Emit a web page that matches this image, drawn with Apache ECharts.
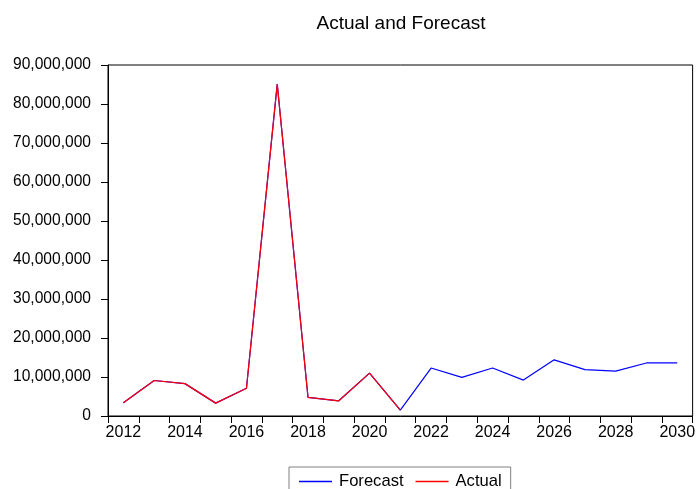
<!DOCTYPE html>
<html>
<head>
<meta charset="utf-8">
<script src="https://cdn.jsdelivr.net/npm/echarts@6/dist/echarts.min.js"></script>
<style>html,body{margin:0;padding:0;background:#fff}#c{width:698px;height:489px}</style>
</head>
<body>
<div id="c"></div>
<script>
const years = ['2012','2013','2014','2015','2016','2017','2018','2019','2020','2021','2022','2023','2024','2025','2026','2027','2028','2029','2030'];
const actual = [3400000, 9100000, 8300000, 3300000, 7100000, 85100000, 4800000, 3900000, 11000000, 1500000, null, null, null, null, null, null, null, null, null];
const forecast = [3400000, 9100000, 8300000, 3300000, 7100000, 85100000, 4800000, 3900000, 11000000, 1500000, 12300000, 9900000, 12300000, 9200000, 14400000, 11900000, 11500000, 13600000, 13600000];
const yTicks = [0, 10000000, 20000000, 30000000, 40000000, 50000000, 60000000, 70000000, 80000000, 90000000];

const font = 'Liberation Sans, Arial, sans-serif';
const chart = echarts.init(document.getElementById('c'), null, {renderer: 'canvas'});
chart.setOption({
  animation: false,
  backgroundColor: '#fff',
  title: {
    text: 'Actual and Forecast',
    left: 401, textAlign: 'center', top: 14, padding: 0,
    textStyle: {fontFamily: font, fontSize: 19, fontWeight: 'normal', color: '#000'}
  },
  grid: {left: 108, top: 65, width: 586, height: 351, show: true, borderColor: '#000', borderWidth: 1, backgroundColor: 'transparent'},
  legend: {
    data: ['Forecast', 'Actual'],
    left: 289, top: 467,
    orient: 'horizontal',
    itemWidth: 33, itemHeight: 1.5, icon: 'rect', itemGap: 12,
    padding: [6, 9, 12, 10],
    borderColor: '#808080', borderWidth: 1,
    textStyle: {fontFamily: font, fontSize: 16.6, color: '#000', padding: [0, 0, 0, 2]}
  },
  xAxis: {
    type: 'category', data: years, boundaryGap: true,
    axisLine: {show: true, lineStyle: {color: '#000', width: 1}},
    axisTick: {show: true, interval: 0, length: 7, lineStyle: {color: '#000'}},
    axisLabel: {interval: 1, margin: 9, fontFamily: font, fontSize: 16, color: '#000'},
    splitLine: {show: false}
  },
  yAxis: {
    type: 'value', min: 0, max: 90000000, interval: 10000000,
    axisLine: {show: true, lineStyle: {color: '#000', width: 1}},
    axisTick: {show: true, length: 7, lineStyle: {color: '#000'}},
    axisLabel: {margin: 17, fontFamily: font, fontSize: 15.6, color: '#000',
      formatter: v => yTicks.includes(v) ? v.toLocaleString('en-US') : ''},
    splitLine: {show: false}
  },
  series: [
    {name: 'Forecast', type: 'line', data: forecast, symbol: 'none', color: '#0000ff',
     lineStyle: {color: '#0000ff', width: 1.2}},
    {name: 'Actual', type: 'line', data: actual, symbol: 'none', color: '#ff0000',
     lineStyle: {color: '#ff0000', width: 1.2}}
  ]
});
</script>
</body>
</html>
